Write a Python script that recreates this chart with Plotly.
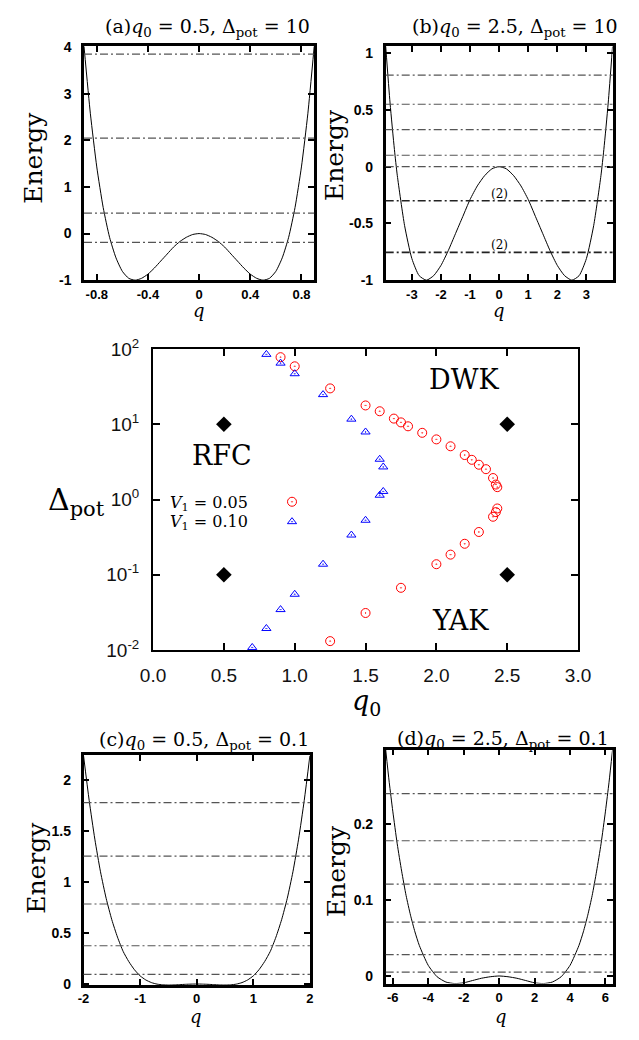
import plotly.graph_objects as go

W, H = 639, 1040

# ---------------- data ----------------
# (a) q0 = 0.5, Delta_pot = 10
qa = [-0.9, -0.85, -0.8, -0.75, -0.7, -0.65, -0.6, -0.55, -0.5, -0.45, -0.4, -0.35, -0.3, -0.25, -0.2, -0.15, -0.1, -0.05, 0.0,
      0.05, 0.1, 0.15, 0.2, 0.25, 0.3, 0.35, 0.4, 0.45, 0.5, 0.55, 0.6, 0.65, 0.7, 0.75, 0.8, 0.85, 0.9]
Ea = [4.02, 2.57, 1.43, 0.56, -0.08, -0.52, -0.81, -0.96, -1.0, -0.96, -0.87, -0.74, -0.59, -0.44, -0.29, -0.17, -0.08, -0.02, 0.0,
      -0.02, -0.08, -0.17, -0.29, -0.44, -0.59, -0.74, -0.87, -0.96, -1.0, -0.96, -0.81, -0.52, -0.08, 0.56, 1.43, 2.57, 4.02]
levels_a = [3.85, 2.05, 0.44, -0.19]

# (b) q0 = 2.5, Delta_pot = 10
qb = [-3.9, -3.75, -3.6, -3.5, -3.25, -3.0, -2.75, -2.5, -2.25, -2.0, -1.75, -1.5, -1.25, -1.0, -0.75, -0.5, -0.25, 0.0,
      0.25, 0.5, 0.75, 1.0, 1.25, 1.5, 1.75, 2.0, 2.25, 2.5, 2.75, 3.0, 3.25, 3.5, 3.6, 3.75, 3.9]
Eb = [1.06, 0.56, 0.15, -0.08, -0.52, -0.81, -0.96, -1.0, -0.96, -0.87, -0.74, -0.59, -0.44, -0.29, -0.17, -0.08, -0.02, 0.0,
      -0.02, -0.08, -0.17, -0.29, -0.44, -0.59, -0.74, -0.87, -0.96, -1.0, -0.96, -0.81, -0.52, -0.08, 0.15, 0.56, 1.06]
levels_b = [0.806, 0.549, 0.326, 0.10, 0.0]
levels_b_deg = [-0.30, -0.755]
deg_labels = ["(2)", "(2)"]

# (c) q0 = 0.5, Delta_pot = 0.1
qc = [-2.0, -1.9, -1.8, -1.7, -1.6, -1.5, -1.4, -1.3, -1.2, -1.1, -1.0, -0.9, -0.8, -0.7, -0.6, -0.5, -0.4, -0.3, -0.2, -0.1, 0.0,
      0.1, 0.2, 0.3, 0.4, 0.5, 0.6, 0.7, 0.8, 0.9, 1.0, 1.1, 1.2, 1.3, 1.4, 1.5, 1.6, 1.7, 1.8, 1.9, 2.0]
Ec = [2.24, 1.80, 1.42, 1.10, 0.84, 0.63, 0.46, 0.32, 0.22, 0.14, 0.08, 0.040, 0.014, -0.001, -0.008, -0.010, -0.009, -0.006, -0.003, -0.001, 0.0,
      -0.001, -0.003, -0.006, -0.009, -0.010, -0.008, -0.001, 0.014, 0.040, 0.08, 0.14, 0.22, 0.32, 0.46, 0.63, 0.84, 1.10, 1.42, 1.80, 2.24]
levels_c = [1.778, 1.254, 0.784, 0.375, 0.095]

# (d) q0 = 2.5, Delta_pot = 0.1
qd = [-6.4, -6.2, -6.0, -5.75, -5.5, -5.25, -5.0, -4.75, -4.5, -4.0, -3.5, -3.0, -2.5, -2.0, -1.5, -1.0, -0.5, 0.0,
      0.5, 1.0, 1.5, 2.0, 2.5, 3.0, 3.5, 4.0, 4.5, 4.75, 5.0, 5.25, 5.5, 5.75, 6.0, 6.2, 6.4]
Ed = [0.298, 0.255, 0.217, 0.174, 0.138, 0.106, 0.080, 0.058, 0.040, 0.014, -0.001, -0.008, -0.010, -0.009, -0.006, -0.003, -0.001, 0.0,
      -0.001, -0.003, -0.006, -0.009, -0.010, -0.008, -0.001, 0.014, 0.040, 0.058, 0.080, 0.106, 0.138, 0.174, 0.217, 0.255, 0.298]
levels_d = [0.240, 0.178, 0.121, 0.071, 0.028, 0.005]

# middle: phase diagram
red_q = [0.9, 1.0, 1.25, 1.5, 1.6, 1.7, 1.75, 1.8, 1.9, 2.0, 2.1, 2.2, 2.25, 2.3, 2.35, 2.4, 2.42, 2.43,
         2.43, 2.42, 2.4, 2.3, 2.2, 2.1, 2.0, 1.75, 1.5, 1.25]
red_d = [78, 59, 30, 17.8, 14.9, 11.9, 10.6, 9.4, 7.7, 6.3, 5.1, 3.9, 3.37, 2.9, 2.53, 1.93, 1.58, 1.46,
         0.76, 0.68, 0.59, 0.37, 0.258, 0.185, 0.138, 0.067, 0.031, 0.0131]
blue_q = [0.8, 0.9, 1.0, 1.2, 1.4, 1.5, 1.6, 1.625, 1.625, 1.6, 1.5, 1.4, 1.2, 1.0, 0.9, 0.8, 0.7]
blue_d = [85, 65, 47, 24.8, 11.7, 7.9, 3.43, 2.71, 1.28, 1.14, 0.53, 0.337, 0.138, 0.055, 0.0344, 0.0193, 0.0108]
dia_q = [0.5, 0.5, 2.5, 2.5]
dia_d = [10, 0.1, 10, 0.1]

mid_xticks = [0.0, 0.5, 1.0, 1.5, 2.0, 2.5, 3.0]
mid_xlabels = ["0.0", "0.5", "1.0", "1.5", "2.0", "2.5", "3.0"]
mid_yticks = [0.01, 0.1, 1, 10, 100]
mid_ylabels = ["10<sup>-2</sup>", "10<sup>-1</sup>", "10<sup>0</sup>", "10<sup>1</sup>", "10<sup>2</sup>"]

# ---------------- helpers ----------------
SERIF = "DejaVu Serif"
SANS = "Liberation Sans"

def dom_x(a, b):
    return [a / W, b / W]

def dom_y(top, bot):
    return [1 - bot / H, 1 - top / H]

def px(X):
    return X / W

def py(Y):
    return 1 - Y / H

fig = go.Figure()

def axis_common(size=14, **kw):
    d = dict(showline=True, linecolor="black", linewidth=2.5, mirror="allticks",
             ticks="inside", ticklen=6, tickwidth=2, tickcolor="black",
             showgrid=False, zeroline=False,
             tickfont=dict(family=SANS, size=size, color="black", weight="bold"), fixedrange=True)
    d.update(kw)
    return d

panels = [
    ("", (74, 314), (34, 273.5), [-0.9, 0.9], [-1, 4.02],
     [-0.8, -0.4, 0, 0.4, 0.8], ["-0.8", "-0.4", "0", "0.4", "0.8"],
     [-1, 0, 1, 2, 3, 4], ["-1", "0", "1", "2", "3", "4"]),
    ("2", (388.5, 625), (34, 273.5), [-3.9, 3.9], [-1, 1.06],
     [-3, -2, -1, 0, 1, 2, 3], ["-3", "-2", "-1", "0", "1", "2", "3"],
     [-1, -0.5, 0, 0.5, 1], ["-1", "-0.5", "0", "0.5", "1"]),
    ("4", (73.5, 309.5), (760, 995), [-2, 2], [-0.01, 2.24],
     [-2, -1, 0, 1, 2], ["-2", "-1", "0", "1", "2"],
     [0, 0.5, 1, 1.5, 2], ["0", "0.5", "1", "1.5", "2"]),
    ("5", (388.5, 625), (754, 993.5), [-6.4, 6.4], [-0.01, 0.298],
     [-6, -4, -2, 0, 2, 4, 6], ["-6", "-4", "-2", "0", "2", "4", "6"],
     [0, 0.1, 0.2], ["0", "0.1", "0.2"]),
]

layout_axes = {}
for pid, xd, yd, xr, yr, xt, xl, yt, yl in panels:
    layout_axes["xaxis" + pid] = axis_common(size=13, domain=dom_x(*xd), range=xr, tickvals=xt, ticktext=xl,
                                             anchor="y" + pid, ticklabelstandoff=0)
    layout_axes["yaxis" + pid] = axis_common(size=14, domain=dom_y(*yd), range=yr, tickvals=yt, ticktext=yl,
                                             anchor="x" + pid, ticklabelstandoff=7)

mid_font = dict(family=SANS, size=19, color="#111")
layout_axes["xaxis3"] = dict(domain=dom_x(146, 589), range=[0, 3], tickvals=mid_xticks, ticktext=mid_xlabels,
                             anchor="y3", showline=True, linecolor="black", linewidth=2, mirror="allticks",
                             ticks="inside", ticklen=7, tickwidth=1.5, tickcolor="black", showgrid=False,
                             zeroline=False, tickfont=mid_font, ticklabelstandoff=7, fixedrange=True)
layout_axes["yaxis3"] = dict(domain=dom_y(344, 652), type="log", range=[-2, 2], tickvals=mid_yticks,
                             ticktext=mid_ylabels, anchor="x3", showline=True, linecolor="black", linewidth=2,
                             mirror="allticks", ticks="inside", ticklen=7, tickwidth=1.5, tickcolor="black",
                             showgrid=False, zeroline=False, tickfont=mid_font, ticklabelstandoff=8,
                             fixedrange=True)

# curves
for pid, q, E in [("", qa, Ea), ("2", qb, Eb), ("4", qc, Ec), ("5", qd, Ed)]:
    fig.add_trace(go.Scatter(x=q, y=E, mode="lines", xaxis="x" + pid, yaxis="y" + pid,
                             line=dict(color="black", width=1, shape="spline", smoothing=0.6),
                             showlegend=False, hoverinfo="skip"))

# energy level lines
DASH = "8px,3px,2px,3px"
shapes = []
def add_levels(pid, levels, color="#555555", width=1.2):
    for E in levels:
        shapes.append(dict(type="line", xref=("x" + pid + " domain"), yref=("y" + pid),
                           x0=0, x1=1, y0=E, y1=E, layer="above",
                           line=dict(color=color, width=width, dash=DASH)))

add_levels("", levels_a)
add_levels("2", levels_b)
add_levels("2", levels_b_deg, color="#222222", width=1.6)
add_levels("4", levels_c)
add_levels("5", levels_d)

# middle scatter
fig.add_trace(go.Scatter(x=red_q, y=red_d, mode="markers", xaxis="x3", yaxis="y3", name=" ",
                         marker=dict(symbol="circle-open-dot", size=9, color="red", line=dict(width=1, color="red")),
                         showlegend=True))
fig.add_trace(go.Scatter(x=blue_q, y=blue_d, mode="markers", xaxis="x3", yaxis="y3", name=" ",
                         marker=dict(symbol="triangle-up-open-dot", size=8, color="blue", line=dict(width=1, color="blue")),
                         showlegend=True))
fig.add_trace(go.Scatter(x=dia_q, y=dia_d, mode="markers", xaxis="x3", yaxis="y3",
                         marker=dict(symbol="diamond", size=12, color="black"), showlegend=False))

# annotations
ann = []
def txt(X, Y, s, size, family=SERIF, xanchor="center", color="black", **kw):
    d = dict(x=px(X), y=py(Y), xref="paper", yref="paper", text=s, showarrow=False,
             xanchor=xanchor, yanchor="middle", font=dict(family=family, size=size, color=color))
    d.update(kw)
    ann.append(d)

def rot(X, Y, s, size):
    ann.append(dict(x=px(X), y=py(Y), xref="paper", yref="paper", text=s, showarrow=False,
                    xanchor="center", yanchor="middle", textangle=-90,
                    font=dict(family=SERIF, size=size, color="black")))

# titles
txt(203, 15, "(a)<i>q</i><sub>0</sub> = 0.5, Δ<sub>pot</sub> = 10", 19)
txt(523, 15, "(b)<i>q</i><sub>0</sub> = 2.5, Δ<sub>pot</sub> = 10", 19)
txt(199, 745, "(c)<i>q</i><sub>0</sub> = 0.5, Δ<sub>pot</sub> = 0.1", 19)
txt(511, 744, "(d)<i>q</i><sub>0</sub> = 2.5, Δ<sub>pot</sub> = 0.1", 19)

# axis labels small panels
for X, Y in [(194, 305), (507, 305), (191, 1027), (509, 1027)]:
    txt(X, Y, "<i>q</i>", 18, borderpad=0)
for X, Y in [(21, 148), (335, 145), (25, 875), (337, 878)]:
    rot(X, Y, "Energy", 25)

# degeneracy labels
for (X, Y), s in zip([(507, 185), (507, 237)], deg_labels):
    txt(X, Y, s, 12)

# middle labels
txt(66, 500, "Δ<sub>pot</sub>", 30)
txt(369, 706, "<i>q</i><sub>0</sub>", 27, borderpad=0)
txt(470, 375, "DWK", 27)
txt(218, 453, "RFC", 27)
txt(467, 622, "YAK", 27)
txt(247, 502, "<i>V</i><sub>1</sub> = 0.05", 16, xanchor="right")
txt(247, 522, "<i>V</i><sub>1</sub> = 0.10", 16, xanchor="right")

fig.update_layout(
    width=W, height=H, margin=dict(l=0, r=0, t=0, b=0),
    paper_bgcolor="white", plot_bgcolor="white",
    shapes=shapes, annotations=ann,
    legend=dict(x=px(270), y=py(485), xanchor="left", yanchor="top", bgcolor="rgba(0,0,0,0)",
                font=dict(family=SANS, size=13), itemwidth=30, tracegroupgap=0),
    **layout_axes,
)

fig.write_html("out.html")
